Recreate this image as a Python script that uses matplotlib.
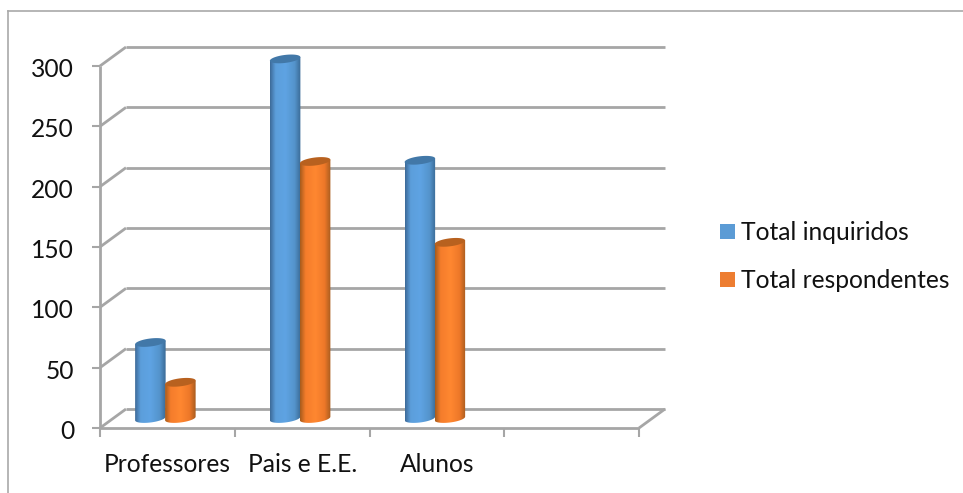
import numpy as np
import matplotlib
matplotlib.use("Agg")
import matplotlib.pyplot as plt
from matplotlib.patches import Polygon, Rectangle
from matplotlib.transforms import Affine2D

categories = ["Professores", "Pais e E.E.", "Alunos", ""]
inquiridos = [63, 298, 214]
respondentes = [30, 213, 146]
series_names = ["Total inquiridos", "Total respondentes"]
y_ticks = [0, 50, 100, 150, 200, 250, 300]

W, H = 963, 493
plt.rcParams['font.family'] = ['Lato', 'DejaVu Sans']
fig = plt.figure(figsize=(W/100, H/100), dpi=100)
L, R, B, T = 100, 639, 428, 66
ax = fig.add_axes([L/W, 1-B/H, (R-L)/W, (B-T)/H])
ax.set_xlim(0, 4)
ax.set_ylim(0, 300)
ax.axis("off")
py = (B-T)/300

GRID = "#a6a6a6"
TXT = "#111111"
DX, DY = 26, 19
FS = 17.7

back_tf = ax.transData + Affine2D().translate(DX, DY)
kw = dict(clip_on=False, solid_capstyle="butt")
for v in y_ticks:
    ax.plot([0, 4], [v, v], transform=back_tf, color=GRID, lw=2.0, zorder=1, **kw)
    x0, y0 = ax.transData.transform((0, v))
    ax.plot([x0, x0+DX], [y0, y0+DY], transform=None, color=GRID, lw=2.0, zorder=1, **kw)
    ax.plot([x0-8, x0], [y0, y0], transform=None, color=GRID, lw=1.5, zorder=1, **kw)
    ax.annotate(str(v), (0, v), xytext=(-26, -3.5), textcoords="offset pixels",
                ha="right", va="center", fontsize=FS, color=TXT, annotation_clip=False)

ax.plot([0, 0], [0, 300], color=GRID, lw=2.0, zorder=1, **kw)
ax.plot([0, 4], [0, 0], color=GRID, lw=2.0, zorder=1, **kw)
x1, y1 = ax.transData.transform((4, 0))
ax.plot([x1, x1+DX], [y1, y1+DY], transform=None, color=GRID, lw=2.0, zorder=1, **kw)
for i in range(5):
    x0, y0 = ax.transData.transform((i, 0))
    ax.plot([x0, x0], [y0, y0-9], transform=None, color=GRID, lw=1.5, zorder=1, **kw)

for i, c in enumerate(categories):
    if c:
        ax.annotate(c, (i+0.5, 0), xytext=(0, -36), textcoords="offset pixels",
                    ha="center", va="center", fontsize=FS, color=TXT,
                    annotation_clip=False)

blue = [(0.24, 0.42, 0.60), (0.36, 0.62, 0.86), (0.37, 0.64, 0.89), (0.33, 0.58, 0.80), (0.23, 0.42, 0.59)]
orange = [(0.66, 0.36, 0.11), (0.96, 0.49, 0.17), (1.0, 0.53, 0.19), (0.93, 0.47, 0.16), (0.66, 0.36, 0.12)]
top_blue = (0.26, 0.47, 0.66)
top_orange = (0.72, 0.38, 0.12)

w_px = 30.5
base_dy = 9.5
half_h = 4.0
tilt = 1.8

def draw_cyl(xc_px, val, ramp, topc, z):
    yb = ax.transData.transform((0, 0))[1] + base_dy
    yt = yb + val*py
    t = np.linspace(0, np.pi, 40)
    a = w_px/2
    bx = xc_px - a*np.cos(t)
    by = yb - half_h*np.sin(t) - tilt*np.cos(t)
    tx = xc_px + a*np.cos(t)
    ty = yt + tilt*np.cos(t)
    verts = np.column_stack([np.r_[bx, tx], np.r_[by, ty]])
    poly = Polygon(verts, closed=True, transform=None, fc="none", ec="none", zorder=z, clip_on=False)
    ax.add_patch(poly)
    s = np.linspace(0, 1, 60)
    img = np.stack([np.interp(s, [0, .18, .5, .8, 1], np.array(ramp)[:, k]) for k in range(3)], axis=1)[None]
    inv = ax.transData.inverted()
    dx0, dy0 = inv.transform((xc_px-a, yb-half_h-3))
    dx1, dy1 = inv.transform((xc_px+a, yt+3))
    im = ax.imshow(img, extent=[dx0, dx1, dy0, dy1], aspect="auto", zorder=z)
    im.set_clip_box(fig.bbox)
    im.set_clip_path(poly)
    tt = np.linspace(0, 2*np.pi, 60)
    cap = np.column_stack([xc_px + a*np.cos(tt), yt + half_h*np.sin(tt) + tilt*np.cos(tt)])
    ax.add_patch(Polygon(cap, closed=True, transform=None, fc=topc, ec="none", zorder=z+0.1, clip_on=False))

def px_x(cat):
    return ax.transData.transform((cat, 0))[0]

for i in range(3):
    mid = px_x(i+0.5) - 2.0
    draw_cyl(mid-15, inquiridos[i], blue, top_blue, 3)
    draw_cyl(mid+15, respondentes[i], orange, top_orange, 4)

ax.set_xlim(0, 4)
ax.set_ylim(0, 300)

for name, col, yy in zip(series_names, ["#5b9bd5", "#ed7d31"], [231, 279]):
    fig.patches.append(Rectangle((720/W, 1-(yy+8)/H), 15/W, 15/H, transform=fig.transFigure, fc=col, ec="none"))
    fig.text(741/W, 1-(yy+1)/H, name, ha="left", va="center", fontsize=FS, color=TXT)

fg = "#a9a9a9"
for xs, ys in [([7.5, 963], [10.5, 10.5]), ([7.5, 7.5], [10.5, 493])]:
    fig.add_artist(plt.Line2D([x/W for x in xs], [1-y/H for y in ys], color=fg, lw=1.2))

fig.savefig("out.png", dpi=100)
